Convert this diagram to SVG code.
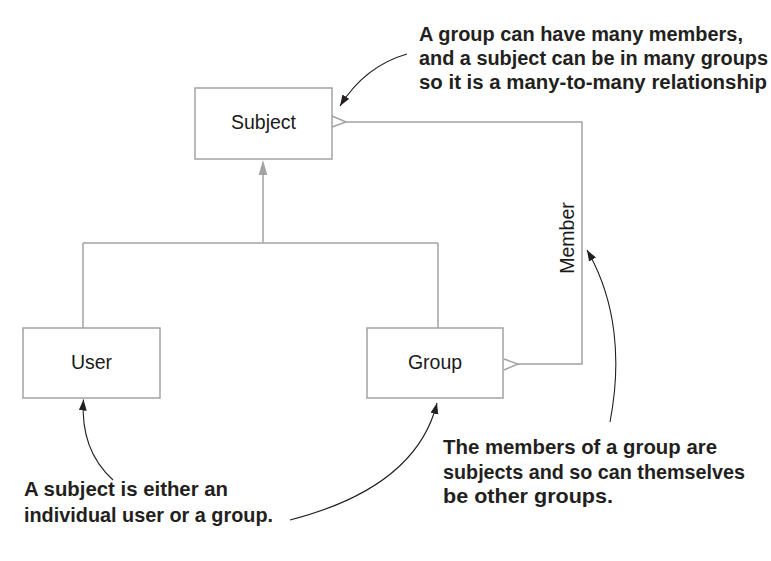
<svg xmlns="http://www.w3.org/2000/svg" width="771" height="561" viewBox="0 0 771 561">
<style>
.box{fill:#fff;stroke:#a3a3a3;stroke-width:1.5}
.lbl{font-family:"Liberation Sans",Arial,sans-serif;font-size:19.5px;fill:#1a1a1a;text-anchor:middle}
.conn{fill:none;stroke:#a3a3a3;stroke-width:1.5}
.note{font-family:"Liberation Sans",Arial,sans-serif;font-size:21px;font-weight:bold;fill:#231f20}
.top{font-size:20px}
.call{fill:none;stroke:#231f20;stroke-width:1.1}
</style>
<defs>
<marker id="blk" markerUnits="userSpaceOnUse" markerWidth="12" markerHeight="10" refX="11" refY="4" orient="auto">
<path d="M0,0 L11,4 L0,8 z" fill="#231f20"/>
</marker>
</defs>
<rect width="771" height="561" fill="#fff"/>
<g id="connectors">
<path class="conn" d="M263,175 V243 M83,243 H438 M83,243 V328 M438,243 V328"/>
<path d="M263,160 L267.3,175 L258.7,175 z" fill="#a3a3a3"/>
<path class="conn" d="M518,364 H582 V122 H346"/>
<path class="conn" d="M332,116 L346,122 L332,127"/>
<path class="conn" d="M504,359 L518,364 L504,370"/>
<text class="lbl" transform="translate(574,238) rotate(-90)">Member</text>
</g>
<g id="subject">
<rect class="box" x="195" y="88" width="137" height="71"/>
<text class="lbl" x="263.5" y="129">Subject</text>
</g>
<g id="user">
<rect class="box" x="23" y="328" width="137" height="70"/>
<text class="lbl" x="91.5" y="368.5">User</text>
</g>
<g id="group">
<rect class="box" x="367" y="328" width="136" height="70"/>
<text class="lbl" x="435" y="368.5">Group</text>
</g>
<g id="callouts">
<path class="call" d="M407,54 Q365,66 340,106" marker-end="url(#blk)"/>
<path class="call" d="M113,480 Q80,450 83.5,399.5" marker-end="url(#blk)"/>
<path class="call" d="M290,520 C352,504 420,472 437,403" marker-end="url(#blk)"/>
<path class="call" d="M610,422 C622,360 616,300 587,250" marker-end="url(#blk)"/>
</g>
<g id="notes">
<text class="note top" x="419" y="40.7" textLength="324" lengthAdjust="spacingAndGlyphs">A group can have many members,</text>
<text class="note top" x="419" y="65" textLength="349" lengthAdjust="spacingAndGlyphs">and a subject can be in many groups</text>
<text class="note top" x="419" y="89.3" textLength="348" lengthAdjust="spacingAndGlyphs">so it is a many-to-many relationship</text>
<text class="note" x="24" y="496" textLength="204" lengthAdjust="spacingAndGlyphs">A subject is either an</text>
<text class="note" x="24" y="522" textLength="249" lengthAdjust="spacingAndGlyphs">individual user or a group.</text>
<text class="note" x="443" y="454" textLength="274" lengthAdjust="spacingAndGlyphs">The members of a group are</text>
<text class="note" x="443" y="479" textLength="302" lengthAdjust="spacingAndGlyphs">subjects and so can themselves</text>
<text class="note" x="443" y="503" textLength="170" lengthAdjust="spacingAndGlyphs">be other groups.</text>
</g>
</svg>
